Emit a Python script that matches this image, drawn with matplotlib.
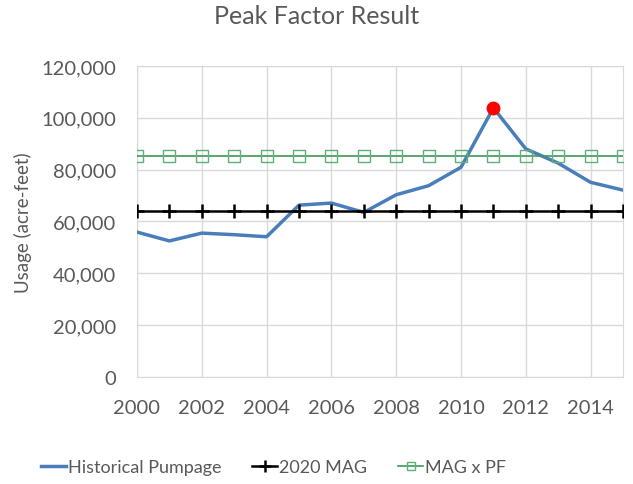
import matplotlib.pyplot as plt
from matplotlib.ticker import FuncFormatter

plt.rcParams['font.family'] = ['Lato', 'DejaVu Sans']

years = list(range(2000, 2016))
pumpage = [55900, 52500, 55500, 54900, 54100, 66300, 67100, 63500,
           70300, 73800, 80900, 103800, 88000, 82500, 75100, 72100]
mag_2020 = [63900] * len(years)
mag_pf = [85150] * len(years)
peak_year = 2011
peak_value = 103800

text_col = '#595959'

fig = plt.figure(figsize=(6.33, 4.85), dpi=100)
ax = fig.add_axes([0.2164, 0.2206, 0.7678, 0.6414])

ax.plot(years, pumpage, color='#4a7ebb', lw=2.5, label='Historical Pumpage', zorder=3)
ax.plot(years, mag_2020, color='black', lw=1.8, marker='+', ms=10, mew=1.8,
        label='2020 MAG', zorder=3)
ax.plot(years, mag_pf, color='#3a9a5a', lw=1.2, marker='s', ms=8, mfc='none',
        mec='#5cb078', mew=1.0, label='MAG x PF', zorder=3)
ax.plot([peak_year], [peak_value], 'o', color='#ff0000', ms=9, zorder=4)

ax.set_xlim(2000, 2015)
ax.set_ylim(0, 120000)
ax.set_xticks(range(2000, 2015, 2))
ax.set_yticks(range(0, 120001, 20000))
ax.yaxis.set_major_formatter(FuncFormatter(lambda v, p: f'{int(v):,}'))
ax.grid(True, color='#d9d9d9', lw=1)
ax.set_axisbelow(True)
for s in ax.spines.values():
    s.set_color('#d9d9d9')
ax.tick_params(length=0, labelsize=14.5, colors=text_col)
ax.tick_params(axis='x', pad=16)
ax.tick_params(axis='y', pad=15)

ax.set_ylabel('Usage (acre-feet)', fontsize=13.5, color=text_col, labelpad=7)
fig.suptitle('Peak Factor Result', fontsize=18, color=text_col, y=0.99)

fig.legend(loc='center', bbox_to_anchor=(0.432, 0.035), ncol=3, frameon=False,
           fontsize=13, labelcolor=text_col, handlelength=1.4, handletextpad=0.1,
           columnspacing=1.7, markerscale=0.8)

fig.savefig('out.png', dpi=100)
